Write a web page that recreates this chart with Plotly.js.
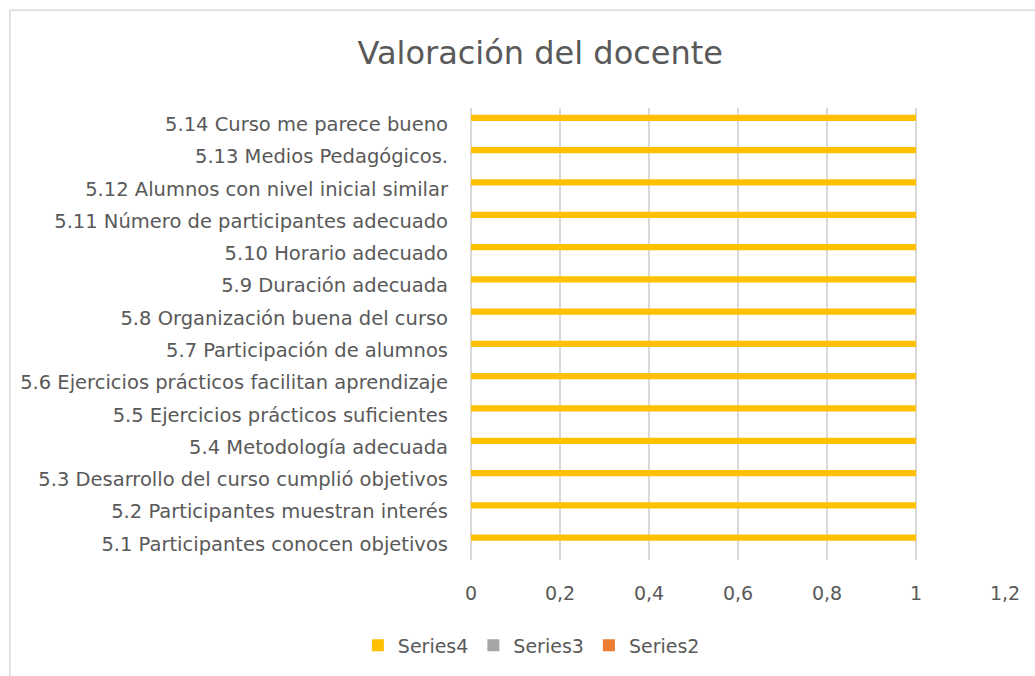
<!DOCTYPE html>
<html>
<head>
<meta charset="utf-8">
<script src="https://cdn.plot.ly/plotly-3.0.1.min.js"></script>
<style>html,body{margin:0;padding:0;background:#fff;}#chart{width:1035px;height:676px;}</style>
</head>
<body>
<div id="chart"></div>
<script>
const categories = [
  "5.1 Participantes conocen objetivos",
  "5.2 Participantes muestran interés",
  "5.3 Desarrollo del curso cumplió objetivos",
  "5.4 Metodología adecuada",
  "5.5 Ejercicios prácticos suficientes",
  "5.6 Ejercicios prácticos facilitan aprendizaje",
  "5.7 Participación de alumnos",
  "5.8 Organización buena del curso",
  "5.9 Duración adecuada",
  "5.10 Horario adecuado",
  "5.11 Número de participantes adecuado",
  "5.12 Alumnos con nivel inicial similar",
  "5.13 Medios Pedagógicos.",
  "5.14 Curso me parece bueno"
];
const series2 = [0,0,0,0,0,0,0,0,0,0,0,0,0,0];
const series3 = [0,0,0,0,0,0,0,0,0,0,0,0,0,0];
const series4 = [1,1,1,1,1,1,1,1,1,1,1,1,1,1];
const xTicks = [0, 0.2, 0.4, 0.6, 0.8, 1, 1.2];

const font = "DejaVu Sans, sans-serif";
const txt = "#595959";

const traces = [
  {name: "Series2", y: categories, x: series2, color: "#ED7D31"},
  {name: "Series3", y: categories, x: series3, color: "#A5A5A5"},
  {name: "Series4", y: categories, x: series4, color: "#FFC000"}
].map(s => ({
  type: "bar", orientation: "h", name: s.name, y: s.y, x: s.x,
  marker: {color: s.color, line: {width: 0}}, hoverinfo: "x+y"
}));

const layout = {
  width: 1035, height: 676,
  margin: {l: 470.5, r: 29.5, t: 108, b: 114},
  paper_bgcolor: "#ffffff", plot_bgcolor: "#ffffff",
  separators: ",.",
  font: {family: font, color: txt},
  title: {text: "Valoración del docente", x: 0.522, xanchor: "center", y: 0.922, yanchor: "middle",
          font: {family: font, size: 32, color: txt}},
  barmode: "group", bargap: 0.42, bargroupgap: 0,
  xaxis: {range: [0, 1.2], tickvals: xTicks, showgrid: true, gridcolor: "#d9d9d9", gridwidth: 1.5,
          zeroline: true, zerolinecolor: "#d9d9d9", zerolinewidth: 1.5, showline: false,
          ticks: "", ticklabelstandoff: 20, tickfont: {family: font, size: 19, color: txt}},
  yaxis: {type: "category", range: [-0.5, 13.5], showgrid: false, zeroline: false, showline: false,
          ticks: "", ticklabelstandoff: 22, automargin: false,
          tickfont: {family: font, size: 19.5, color: txt}},
  showlegend: true,
  legend: {orientation: "h", traceorder: "reversed", x: 0.113, xanchor: "center", y: -0.189, yanchor: "middle",
           font: {family: font, size: 19, color: txt}, itemwidth: 30},
  shapes: [{type: "rect", xref: "paper", yref: "paper", x0: -0.8636, x1: 1.2, y0: -0.4, y1: 1.2165,
            line: {color: "#d9d9d9", width: 1.5}, fillcolor: "rgba(0,0,0,0)", layer: "below"}]
};

Plotly.newPlot("chart", traces, layout, {displayModeBar: false, staticPlot: true});
</script>
</body>
</html>
